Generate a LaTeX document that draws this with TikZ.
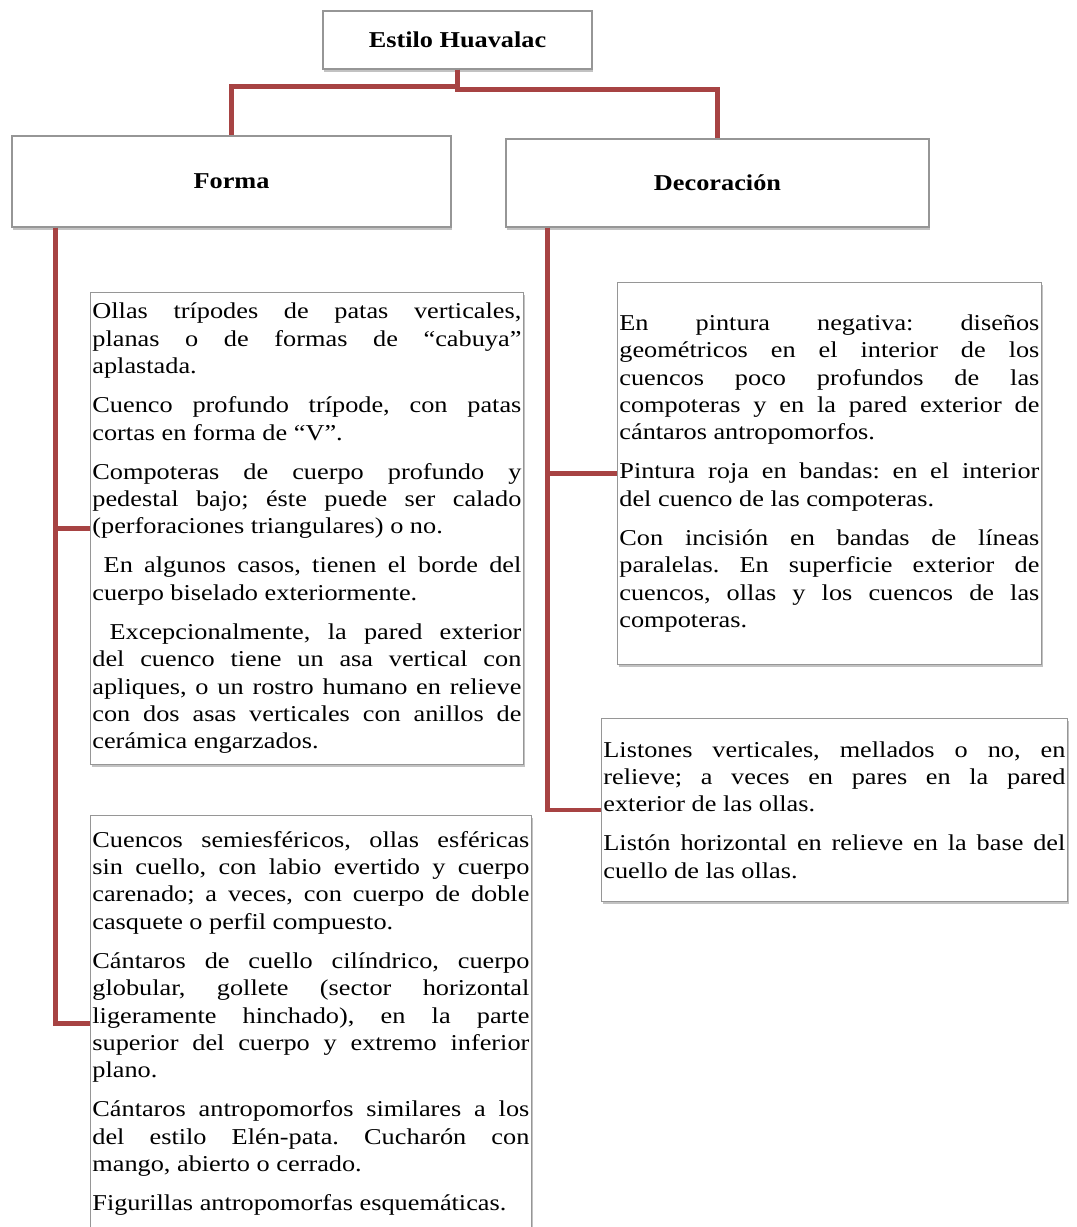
\documentclass[tikz,border=0pt]{standalone}
\usepackage{fontspec}
\setmainfont{Liberation Serif}[FakeStretch=1.16]
\usepackage{tikz}
\usepackage{xcolor}
\usetikzlibrary{calc}
\usetikzlibrary{positioning}
\usetikzlibrary{shadows}

\definecolor{linkred}{RGB}{167,67,67}
\definecolor{boxgray}{RGB}{150,150,150}

\tikzset{
  head/.style={draw=boxgray, fill=white, line width=0.8pt,
    drop shadow={shadow xshift=1pt, shadow yshift=-2pt, opacity=0.4, fill=black!60},
    font=\fontsize{17}{20.5}\selectfont\bfseries},
  itembox/.style={draw=boxgray, fill=white, line width=0.6pt, anchor=north west,
    drop shadow={shadow xshift=1pt, shadow yshift=-2pt, opacity=0.4, fill=black!60},
    inner xsep=1.5pt, inner ysep=0pt, align=justify,
    font=\fontsize{17}{20.55}\selectfont,
    execute at begin node={\setlength{\parskip}{8.7pt}\setlength{\parindent}{0pt}%
      \frenchspacing\tolerance=10000 \hyphenpenalty=10000 \exhyphenpenalty=10000}},
  link/.style={draw=linkred, line width=3.5pt}
}

\begin{document}
\begin{tikzpicture}[x=0.75pt, y=-0.75pt]
\useasboundingbox (0,0) rectangle (1076,1227);

% cabeceras
\node[head, minimum width=201.75pt, minimum height=43.5pt] (estilo) at (457.5,40) {Estilo Huavalac};
\node[head, minimum width=329.25pt, minimum height=68.25pt] (forma) at (231.5,181.5) {Forma};
\node[head, minimum width=317.25pt, minimum height=66pt] (deco) at (717.5,183) {Decoración};

% forma
\node[itembox, text width=321.75pt, minimum height=354pt] (formaA) at (90,292) {%
Ollas trípodes de patas verticales,\linebreak planas o de formas de “cabuya”\linebreak aplastada.\par
Cuenco profundo trípode, con patas\linebreak cortas en forma de “V”.\par
Compoteras de cuerpo profundo y\linebreak pedestal bajo; éste puede ser calado\linebreak (perforaciones triangulares) o no.\par
\ En algunos casos, tienen el borde del\linebreak cuerpo biselado exteriormente.\par
\ Excepcionalmente, la pared exterior\linebreak del cuenco tiene un asa vertical con\linebreak apliques, o un rostro humano en relieve\linebreak con dos asas verticales con anillos de\linebreak cerámica engarzados.};

\node[itembox, text width=327.75pt, minimum height=312pt] (formaB) at (90,815) {%
Cuencos semiesféricos, ollas esféricas\linebreak sin cuello, con labio evertido y cuerpo\linebreak carenado; a veces, con cuerpo de doble\linebreak casquete o perfil compuesto.\par
Cántaros de cuello cilíndrico, cuerpo\linebreak globular, gollete (sector horizontal\linebreak ligeramente hinchado), en la parte\linebreak superior del cuerpo y extremo inferior\linebreak plano.\par
Cántaros antropomorfos similares a los\linebreak del estilo Elén-pata. Cucharón con\linebreak mango, abierto o cerrado.\par
Figurillas antropomorfas esquemáticas.};

% decoracion
\node[itembox, text width=315pt, minimum height=286.5pt] (decoA) at (617,282) {%
En pintura negativa: diseños\linebreak geométricos en el interior de los\linebreak cuencos poco profundos de las\linebreak compoteras y en la pared exterior de\linebreak cántaros antropomorfos.\par
Pintura roja en bandas: en el interior\linebreak del cuenco de las compoteras.\par
Con incisión en bandas de líneas\linebreak paralelas. En superficie exterior de\linebreak cuencos, ollas y los cuencos de las\linebreak compoteras.};

\node[itembox, text width=346.5pt, minimum height=137.25pt] (decoB) at (601,718) {%
Listones verticales, mellados o no, en\linebreak relieve; a veces en pares en la pared\linebreak exterior de las ollas.\par
Listón horizontal en relieve en la base del\linebreak cuello de las ollas.};

% conectores
\draw[link] (estilo.south) -- ++(0,17) -| (forma.north);
\draw[link] (estilo.south) -- ++(0,20) -| (deco.north);
\draw[link] ($(forma.south west)+(44,0)$) |- (formaA.west);
\draw[link] ($(forma.south west)+(44,0)$) |- (formaB.west);
\draw[link] ($(deco.south west)+(42,0)$) |- (decoA.west);
\draw[link] ($(deco.south west)+(42,0)$) |- (decoB.west);

\end{tikzpicture}
\end{document}
